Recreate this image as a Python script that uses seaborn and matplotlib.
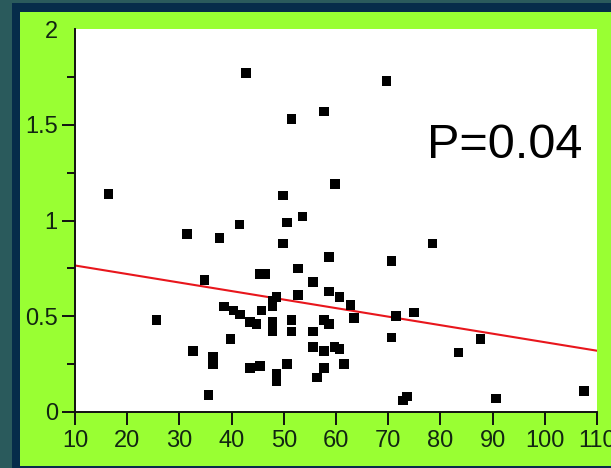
import matplotlib
matplotlib.use("Agg")
import matplotlib.pyplot as plt
import matplotlib.patches as mpatches
from matplotlib.ticker import MultipleLocator
import seaborn as sns
import pandas as pd

# --- DATEN ---
x_vals = [16.4, 25.6, 31.5, 32.6, 34.8, 35.6, 36.4, 36.4, 37.7, 38.5,
          39.8, 40.4, 41.5, 41.6, 42.8, 43.5, 43.5, 44.8, 45.5, 45.5,
          45.7, 46.5, 47.8, 47.8, 47.8, 47.8, 47.8, 48.6, 48.6, 48.6,
          49.8, 49.9, 50.6, 50.6, 51.5, 51.5, 51.5, 52.7, 52.7, 53.6,
          55.6, 55.6, 55.6, 56.4, 57.7, 57.7, 57.7, 57.7, 58.6, 58.6,
          58.6, 59.7, 59.8, 60.7, 60.7, 61.5, 62.8, 63.5, 69.7, 70.6,
          70.6, 71.5, 72.8, 73.6, 74.9, 78.5, 83.5, 87.7, 90.7, 107.5]
y_vals = [1.14, 0.48, 0.93, 0.32, 0.69, 0.09, 0.29, 0.25, 0.91, 0.55,
          0.38, 0.53, 0.98, 0.51, 1.77, 0.47, 0.23, 0.46, 0.72, 0.24,
          0.53, 0.72, 0.58, 0.55, 0.47, 0.44, 0.42, 0.60, 0.20, 0.16,
          0.88, 1.13, 0.99, 0.25, 1.53, 0.48, 0.42, 0.75, 0.61, 1.02,
          0.68, 0.42, 0.34, 0.18, 1.57, 0.48, 0.32, 0.23, 0.81, 0.63,
          0.46, 0.34, 1.19, 0.60, 0.33, 0.25, 0.56, 0.49, 1.73, 0.79,
          0.39, 0.50, 0.06, 0.08, 0.52, 0.88, 0.31, 0.38, 0.07, 0.11]

line_x = [10, 110]
line_y = [0.765, 0.32]

x_ticks = [10, 20, 30, 40, 50, 60, 70, 80, 90, 100, 110]
y_ticks = [0, 0.5, 1, 1.5, 2]
y_tick_labels = ["0", "0.5", "1", "1.5", "2"]
p_label = "P=0.04"

# --- STYLE ---
sns.set_theme(style="ticks")
plt.rcParams["font.family"] = ["Liberation Sans", "DejaVu Sans"]

TEAL = "#2a5a5c"
NAVY = "#062c4a"
GREEN = "#99ff33"
TXT = "#122612"

fig = plt.figure(figsize=(6.11, 4.68), dpi=100)
fig.patch.set_facecolor(TEAL)
W, H = 611, 468
fig.patches.append(mpatches.Rectangle((12 / W, 0), 1, 1 - 3 / H, transform=fig.transFigure,
                                      facecolor=NAVY, edgecolor="none", zorder=-10))
fig.patches.append(mpatches.Rectangle((20 / W, 2 / H), 1, 1 - 14 / H, transform=fig.transFigure,
                                      facecolor=GREEN, edgecolor="none", zorder=-9))

ax = fig.add_axes([75 / W, (H - 412) / H, (597 - 75) / W, (412 - 29) / H])
ax.set_zorder(5)
ax.set_facecolor("white")

df = pd.DataFrame({"x": x_vals, "y": y_vals})
sns.scatterplot(data=df, x="x", y="y", ax=ax, marker="s", s=48,
                color="black", edgecolor="none", zorder=3)
sns.lineplot(x=line_x, y=line_y, ax=ax, color="#e8161c", linewidth=1.5, zorder=2)

ax.set_xlim(10, 110)
ax.set_ylim(0, 2)
ax.set_xticks(x_ticks)
ax.set_xticklabels([str(t) for t in x_ticks])
ax.set_yticks(y_ticks)
ax.set_yticklabels(y_tick_labels)
ax.yaxis.set_minor_locator(MultipleLocator(0.25))
ax.set_xlabel("")
ax.set_ylabel("")

for s in ["top", "right"]:
    ax.spines[s].set_visible(False)
for s in ["left", "bottom"]:
    ax.spines[s].set_linewidth(1.4)
    ax.spines[s].set_color("#111111")

ax.tick_params(axis="both", which="major", labelsize=17, labelcolor=TXT,
               color="#111111", width=1.4, direction="out")
ax.tick_params(axis="y", which="major", length=9.4, pad=3)
ax.tick_params(axis="x", which="major", length=9, pad=4)
ax.tick_params(axis="y", which="minor", length=5.8, width=1.4, color="#111111")
ax.yaxis.get_major_ticks()[-1].tick1line.set_visible(False)

ax.text(77.5, 1.39, p_label, fontsize=35, color="black", ha="left", va="center")

fig.savefig("out.png", dpi=100, facecolor=fig.get_facecolor())
plt.close(fig)
